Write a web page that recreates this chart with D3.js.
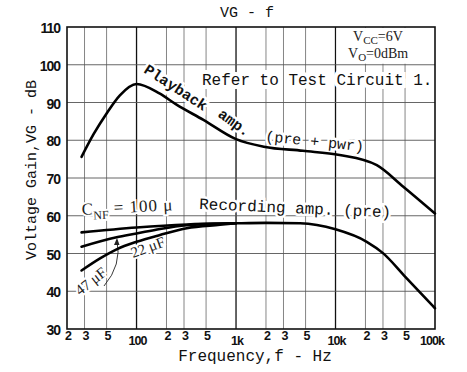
<!DOCTYPE html>
<html lang="en">
<head>
<meta charset="UTF-8">
<title>VG - f</title>
<script src="https://d3js.org/d3.v7.min.js"></script>
<style>
    body { margin: 0; background: #fff; }
    svg { display: block; }
    .mono { font-family: "Liberation Mono", "DejaVu Sans Mono", monospace; fill: #111; }
    .serif { font-family: "Liberation Serif", "DejaVu Serif", serif; fill: #222; }
    .tick { font-family: "Liberation Sans", Arial, sans-serif; font-weight: bold; fill: #111; letter-spacing: -1px; }
</style>
</head>
<body>
<script>
    // playback amp (pre + pwr)
    const playFreq = [28, 37, 50, 68, 100, 170, 250, 470, 1000, 1900, 4700, 11000, 26000, 48000, 100000]
    const playGain = [75.6, 81.6, 87.1, 91.9, 94.9, 92.4, 89.5, 85.4, 80.3, 78.3, 77.2, 76.1, 73.4, 67.7, 60.6]

    // recording amp (pre), CNF = 100u
    const rec100Freq = [28, 100, 320, 1000, 2000, 4400, 10000, 20600, 30000, 50000, 100000]
    const rec100Gain = [55.6, 56.9, 57.7, 58.0, 58.1, 58.0, 56.4, 53.1, 50.1, 43.9, 35.5]
    // CNF = 22u
    const rec22Freq = [28, 63, 100, 172, 320, 700, 1000]
    const rec22Gain = [51.8, 54.3, 55.3, 56.5, 57.5, 57.9, 58.0]
    // CNF = 47u
    const rec47Freq = [28, 43, 63, 100, 172, 320, 690, 1000]
    const rec47Gain = [45.5, 48.7, 51.1, 53.1, 54.9, 56.7, 57.6, 58.0]

    const yTicks = [30, 40, 50, 60, 70, 80, 90, 100, 110]
    const gridFreqs = [30, 50, 100, 200, 300, 500, 1000, 2000, 3000, 5000, 10000, 20000, 30000, 50000]
    const xTickFreqs = [20, 30, 50, 100, 200, 300, 500, 1000, 2000, 3000, 5000, 10000, 20000, 30000, 50000, 100000]
    const xTickLabels = ["2", "3", "5", "100", "2", "3", "5", "1k", "2", "3", "5", "10k", "2", "3", "5", "100k"]

    const W = 467, H = 372
    const svg = d3.select("body").append("svg").attr("width", W).attr("height", H)

    const x = d3.scaleLog().domain([20, 100000]).range([67, 435])
    const y = d3.scaleLinear().domain([30, 110]).range([329, 27])

    // grid
    const grid = svg.append("g")
    const major = d => [100, 1000, 10000].includes(d)
    grid.selectAll(".vg").data(gridFreqs).enter().append("line")
        .attr("x1", d => x(d)).attr("x2", d => x(d))
        .attr("y1", y(110)).attr("y2", y(30))
        .attr("stroke", d => major(d) ? "#111" : "#666")
        .attr("stroke-width", d => major(d) ? 1.3 : 0.8)
    grid.selectAll(".hg").data(yTicks.slice(1, -1)).enter().append("line")
        .attr("x1", x(20)).attr("x2", x(100000))
        .attr("y1", d => y(d)).attr("y2", d => y(d))
        .attr("stroke", "#555").attr("stroke-width", 0.9)

    // white box for conditions
    svg.append("rect").attr("x", x(10000) + 1).attr("y", y(110) + 1)
        .attr("width", x(100000) - x(10000) - 2).attr("height", y(100) - y(110) - 2)
        .attr("fill", "#fff")

    // frame
    svg.append("rect").attr("x", x(20)).attr("y", y(110))
        .attr("width", x(100000) - x(20)).attr("height", y(30) - y(110))
        .attr("fill", "none").attr("stroke", "#111").attr("stroke-width", 1.6)

    // y ticks
    svg.selectAll(".yl").data(yTicks).enter().append("text")
        .attr("class", "tick").attr("x", 60).attr("y", d => y(d) + 1)
        .attr("text-anchor", "end").attr("dominant-baseline", "central")
        .attr("font-size", 14).text(d => d)

    // x ticks
    svg.selectAll(".xl").data(xTickFreqs).enter().append("text")
        .attr("class", "tick")
        .attr("x", (d, i) => i === xTickFreqs.length - 1 ? x(d) - 3 : x(d) + 1)
        .attr("y", (d, i) => xTickLabels[i].length > 1 ? 345 : 340)
        .attr("text-anchor", "middle").attr("font-size", 12.5)
        .text((d, i) => xTickLabels[i])

    // axis titles
    svg.append("text").attr("class", "mono").attr("x", 247).attr("y", 17)
        .attr("text-anchor", "middle").attr("font-size", 15).text("VG - f")
    svg.append("text").attr("class", "mono").attr("x", 255).attr("y", 361)
        .attr("text-anchor", "middle").attr("font-size", 16).text("Frequency,f - Hz")
    svg.append("text").attr("class", "mono")
        .attr("transform", "translate(36,170) rotate(-90)")
        .attr("text-anchor", "middle").attr("font-size", 15).text("Voltage Gain,VG - dB")

    // conditions
    const c1 = svg.append("text").attr("class", "serif").attr("x", 353).attr("y", 41).attr("font-size", 14)
    c1.append("tspan").text("V")
    c1.append("tspan").attr("font-size", 11).attr("dy", 3).text("CC")
    c1.append("tspan").attr("dy", -3).text("=6V")
    const c2 = svg.append("text").attr("class", "serif").attr("x", 348).attr("y", 58).attr("font-size", 14)
    c2.append("tspan").text("V")
    c2.append("tspan").attr("font-size", 11).attr("dy", 3).text("O")
    c2.append("tspan").attr("dy", -3).text("=0dBm")

    function halo(sel, w) {
        return sel.attr("stroke", "#fff").attr("stroke-width", w).attr("paint-order", "stroke")
    }

    halo(svg.append("text").attr("class", "mono").attr("x", 202).attr("y", 85)
        .attr("font-size", 16).text("Refer to Test Circuit 1."), 8)

    halo(svg.append("text").attr("class", "mono").attr("font-weight", "bold")
        .attr("transform", "translate(143,72) rotate(33)")
        .attr("font-size", 15).text("Playback"), 5)
    halo(svg.append("text").attr("class", "mono").attr("font-weight", "bold")
        .attr("transform", "translate(217,116) rotate(36)")
        .attr("font-size", 15).text("amp."), 5)
    halo(svg.append("text").attr("class", "mono")
        .attr("transform", "translate(265,141) rotate(6)")
        .attr("font-size", 15).text("(pre + pwr)"), 5)
    halo(svg.append("text").attr("class", "mono")
        .attr("transform", "translate(199,209) rotate(2.5)")
        .attr("font-size", 16).text("Recording amp. (pre)"), 5)

    const cnf = halo(svg.append("text").attr("class", "serif")
        .attr("transform", "translate(82,215) rotate(-3)").attr("font-size", 17), 4)
    cnf.append("tspan").text("C")
    cnf.append("tspan").attr("font-size", 12).attr("dy", 5).text("NF")
    cnf.append("tspan").attr("dy", -5).attr("letter-spacing", 1).text(" = 100 \u03bc")

    halo(svg.append("text").attr("class", "serif")
        .attr("transform", "translate(133,258) rotate(-20)")
        .attr("font-size", 15).text("22 \u03bcF"), 4)
    halo(svg.append("text").attr("class", "serif")
        .attr("transform", "translate(80,296) rotate(-38)")
        .attr("font-size", 15).text("47 \u03bcF"), 4)

    // small curved arrow between 47u and 22u curves
    svg.append("path").attr("d", "M104,286 Q122,265 117,240")
        .attr("fill", "none").attr("stroke", "#222").attr("stroke-width", 0.9)
    svg.append("path").attr("d", "M114,245 L117,238 L119.5,245 Z").attr("fill", "#222")

    // curves
    const line = d3.line().x(d => x(d[0])).y(d => y(d[1])).curve(d3.curveMonotoneX)
    const series = [
        d3.zip(playFreq, playGain),
        d3.zip(rec100Freq, rec100Gain),
        d3.zip(rec22Freq, rec22Gain),
        d3.zip(rec47Freq, rec47Gain)
    ]
    svg.selectAll(".curve").data(series).enter().append("path")
        .attr("d", line).attr("fill", "none")
        .attr("stroke", "#000").attr("stroke-width", 2.6)
        .attr("stroke-linejoin", "round").attr("stroke-linecap", "round")
</script>
</body>
</html>
